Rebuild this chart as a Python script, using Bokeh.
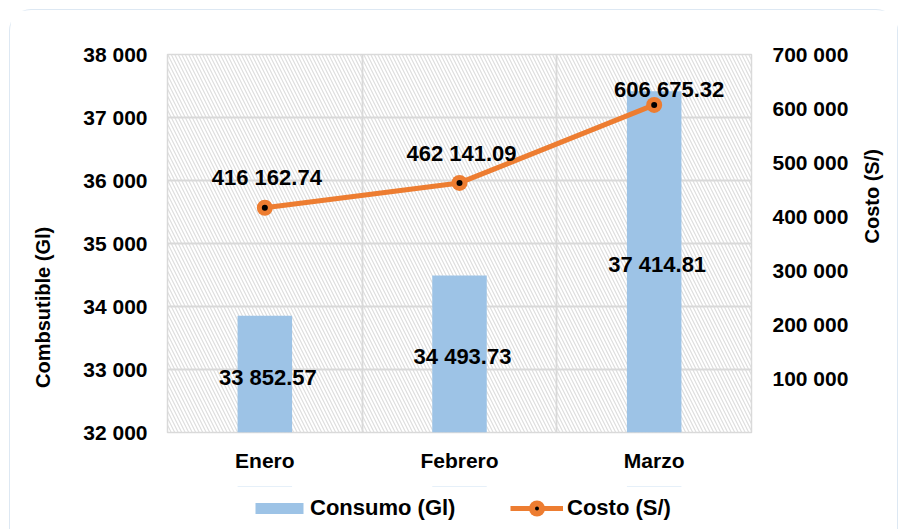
import math
from bokeh.plotting import figure
from bokeh.layouts import column
from bokeh.models import (Range1d, LinearAxis, FactorRange, BoxAnnotation, FixedTicker,
                          CustomJSTickFormatter, ColumnDataSource, Legend, LegendItem,
                          SingleIntervalTicker)
from bokeh.core.properties import value
from bokeh.embed import file_html
from bokeh.resources import INLINE

# ---- data ----
meses = ["Enero", "Febrero", "Marzo"]
consumo = [33852.57, 34493.73, 37414.81]
costo = [416162.74, 462141.09, 606675.32]
y_left = (32000, 38000)
y_right = (0, 700000)
left_step = 1000
right_step = 100000
serie_barras = "Consumo (Gl)"
serie_linea = "Costo (S/)"
titulo_izq = "Combsutible (Gl)"
titulo_der = "Costo (S/)"

# label placement (style, screen pixels)
costo_lbl_dx = [2, 2, 15]
costo_lbl_dy = [-30, -29, -15]


def fmt(v):
    return f"{v:,.2f}".replace(",", " ")


src = ColumnDataSource(dict(
    mes=meses, consumo=consumo, costo=costo,
    base=[y_left[0]] * len(meses),
    mid=[(y_left[0] + v) / 2 for v in consumo],
    consumo_lbl=[fmt(v) for v in consumo],
    costo_lbl=[fmt(v) for v in costo],
    dx=costo_lbl_dx, dy=costo_lbl_dy,
))

FONT = "Liberation Sans"
BLUE = "#9DC3E6"
ORANGE = "#ED7D31"
GRID = "#d9d9d9"
W = 887

xr = FactorRange(*meses, range_padding=0)
p = figure(width=W, height=476, x_range=xr, y_range=Range1d(*y_left),
           output_backend="svg", toolbar_location=None,
           min_border_left=157, min_border_right=146,
           min_border_top=44, min_border_bottom=54)
p.background_fill_color = "white"
p.border_fill_color = "white"
p.outline_line_color = GRID
p.outline_line_width = 1.5

# hatched plot area
hatch = BoxAnnotation(fill_alpha=0, line_color=None, hatch_pattern="\\",
                      hatch_color="#dedede", hatch_scale=7, hatch_weight=1.2,
                      level="image")
p.add_layout(hatch)

p.extra_y_ranges = {"cost": Range1d(*y_right)}

fmt_js = r'return tick.toFixed(0).replace(/\B(?=(\d{3})+(?!\d))/g, " ");'
fmt_js_r = r'if (tick == 0) { return ""; } return tick.toFixed(0).replace(/\B(?=(\d{3})+(?!\d))/g, " ");'

# left axis (title sits below the centre in the original: pad its upper end)
ya = p.yaxis[0]
ya.ticker = SingleIntervalTicker(interval=left_step)
ya.formatter = CustomJSTickFormatter(code=fmt_js)
ya.axis_label = titulo_izq + "\u00a0" * 23

# right axis
ra = LinearAxis(y_range_name="cost", ticker=SingleIntervalTicker(interval=right_step),
                formatter=CustomJSTickFormatter(code=fmt_js_r), axis_label=titulo_der)
p.add_layout(ra, "right")

for ax in [ya, ra]:
    ax.axis_line_color = None
    ax.major_tick_line_color = None
    ax.minor_tick_line_color = None
    ax.major_tick_out = 0
    ax.major_tick_in = 0
    ax.major_label_text_font = FONT
    ax.major_label_text_font_style = "bold"
    ax.major_label_text_font_size = "21px"
    ax.major_label_text_color = "black"
    ax.axis_label_text_font = FONT
    ax.axis_label_text_font_style = "bold"
    ax.axis_label_text_font_size = "20px"
    ax.axis_label_text_color = "black"
ya.major_label_standoff = 16
ya.axis_label_standoff = 26
ra.major_label_standoff = 17
ra.axis_label_standoff = 21
try:
    ra.axis_label_orientation = math.pi / 2
except Exception:
    pass

xa = p.xaxis[0]
xa.axis_line_color = None
xa.major_tick_line_color = None
xa.major_tick_out = 0
xa.major_label_standoff = 16
xa.major_label_text_font = FONT
xa.major_label_text_font_style = "bold"
xa.major_label_text_font_size = "21px"
xa.major_label_text_color = "black"

p.ygrid.ticker = SingleIntervalTicker(interval=left_step)
p.ygrid.grid_line_color = GRID
p.ygrid.grid_line_width = 1.8
p.xgrid.ticker = FixedTicker(ticks=[1, 2])
p.xgrid.grid_line_color = GRID
p.xgrid.grid_line_width = 1.8

bars = p.vbar(x="mes", top="consumo", bottom="base", width=0.28, source=src,
              fill_color=BLUE, line_color=None)
line = p.line(x="mes", y="costo", y_range_name="cost", source=src,
              line_color=ORANGE, line_width=5)
m1 = p.scatter(x="mes", y="costo", y_range_name="cost", source=src, size=16,
               fill_color=ORANGE, line_color=None)
m2 = p.scatter(x="mes", y="costo", y_range_name="cost", source=src, size=6,
               fill_color="black", line_color=None)

p.text(x="mes", y="mid", text="consumo_lbl", source=src, text_align="center",
       text_baseline="middle", text_font=value(FONT), text_font_style="bold",
       text_font_size="22px", text_color="black", x_offset=3, y_offset=3)
p.text(x="mes", y="costo", y_range_name="cost", text="costo_lbl", source=src,
       text_align="center", text_baseline="middle", text_font=value(FONT),
       text_font_style="bold", text_font_size="22px", text_color="black",
       x_offset="dx", y_offset="dy")

# ---- legend strip: same series drawn again, but outside this strip's y range ----
lg = figure(width=W, height=43, x_range=xr, y_range=Range1d(0, 1),
            output_backend="svg", toolbar_location=None,
            x_axis_location=None, y_axis_location=None,
            min_border=0, min_border_left=0, min_border_right=0,
            min_border_top=0, min_border_bottom=0)
lg.outline_line_color = None
lg.background_fill_color = "white"
lg.border_fill_color = "white"
lg.xgrid.visible = False
lg.ygrid.visible = False
pb = lg.vbar(x="mes", top="consumo", bottom="base", width=0.28, source=src,
             fill_color=BLUE, line_color=None)
pl = lg.line(x="mes", y="costo", source=src, line_color=ORANGE, line_width=5)
pm = lg.scatter(x="mes", y="costo", source=src, marker="circle_dot", size=16,
                fill_color=ORANGE, line_color="black", line_width=0)

common = dict(orientation="horizontal", border_line_color=None,
              background_fill_alpha=0, label_text_font=FONT,
              label_text_font_style="bold", label_text_font_size="22px",
              label_text_color="black", margin=0)
legend_a = Legend(items=[LegendItem(label=serie_barras, renderers=[pb])],
                  location=(82, 8), glyph_width=60, glyph_height=14,
                  label_standoff=1, padding=4, **common)
legend_b = Legend(items=[LegendItem(label=serie_linea, renderers=[pl, pm])],
                  location=(343, 1), glyph_width=53, glyph_height=40,
                  label_standoff=4, padding=0, **common)
lg.add_layout(legend_a, "center")
lg.add_layout(legend_b, "center")

layout = column(p, lg, spacing=0)
layout.styles = {"margin-left": "9px", "margin-top": "9px",
                 "border-top": "1.5px solid #dde8f3", "border-left": "1.5px solid #dde8f3",
                 "border-right": "1.5px solid #dde8f3", "border-top-left-radius": "22px",
                 "border-top-right-radius": "22px", "background": "white"}

open("out.html", "w").write(file_html(layout, INLINE))
